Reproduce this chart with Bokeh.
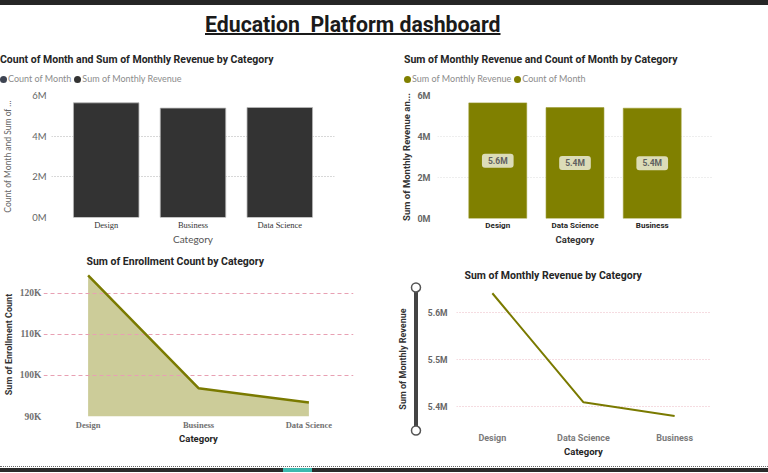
from bokeh.plotting import figure
from bokeh.models import (Range1d, FactorRange, CustomJSTickFormatter, Div)
from bokeh.layouts import column, row
from bokeh.embed import file_html
from bokeh.resources import INLINE
from bokeh.core.properties import value

# ---------------- data ----------------
main_title = "Education  Platform dashboard"

bar_left_title = "Count of Month and Sum of Monthly Revenue by Category"
bar_left_categories = ["Design", "Business", "Data Science"]
bar_left_revenue = [5640000, 5380000, 5410000]
bar_left_legend = ["Count of Month", "Sum of Monthly Revenue"]
bar_left_legend_colors = ["#3e4452", "#333333"]
bar_left_ticks = [0, 2000000, 4000000, 6000000]

bar_right_title = "Sum of Monthly Revenue and Count of Month by Category"
bar_right_categories = ["Design", "Data Science", "Business"]
bar_right_revenue = [5640000, 5410000, 5380000]
bar_right_legend = ["Sum of Monthly Revenue", "Count of Month"]
bar_right_legend_colors = ["#808000", "#808000"]
bar_right_ticks = [0, 2000000, 4000000, 6000000]

area_title = "Sum of Enrollment Count by Category"
area_categories = ["Design", "Business", "Data Science"]
area_enrollment = [124400, 96900, 93400]
area_ticks = [90000, 100000, 110000, 120000]

line_title = "Sum of Monthly Revenue by Category"
line_categories = ["Design", "Data Science", "Business"]
line_revenue = [5641000, 5409000, 5380000]
line_ticks = [5400000, 5500000, 5600000]

# axis extents
bar_y_max = 6000000
area_y_max = 125120
line_y_min = 5348940
line_y_max = 5653200

# ---------------- styles ----------------
DIN = "Roboto"
SEGOE = "Lato"
SERIF = "Liberation Serif"
OLIVE = "#808000"
DARK = "#252525"

W = 384
H_HEAD = 40
H_TOP = 159
H_BOT = 213


def make_fig(width, height, x_range, y_range, left, right, top, bottom, **kw):
    p = figure(width=width, height=height, x_range=x_range, y_range=y_range,
               output_backend="svg", toolbar_location=None, frame_align=False,
               min_border_left=left, min_border_right=right,
               min_border_top=top, min_border_bottom=bottom, margin=0, **kw)
    p.outline_line_color = None
    p.background_fill_color = "white"
    p.border_fill_color = "white"
    p.xgrid.grid_line_color = None
    for ax in list(p.xaxis) + list(p.yaxis):
        ax.axis_line_color = None
        ax.major_tick_line_color = None
        ax.minor_tick_line_color = None
        ax.major_tick_out = 0
        ax.major_tick_in = 0
        ax.minor_tick_out = 0
        ax.minor_tick_in = 0
    return p


def style_axis(ax, font, size, color, style="normal", standoff=3):
    ax.major_label_text_font = font
    ax.major_label_text_font_size = size
    ax.major_label_text_color = color
    ax.major_label_text_font_style = style
    ax.major_label_standoff = standoff


def style_label(ax, text, font, size, color, style="bold", standoff=1):
    ax.axis_label = text
    ax.axis_label_text_font = font
    ax.axis_label_text_font_size = size
    ax.axis_label_text_color = color
    ax.axis_label_text_font_style = style
    ax.axis_label_standoff = standoff


def style_title(p, text, offset, standoff):
    p.title.text = text
    p.title.text_font = DIN
    p.title.text_font_style = "bold"
    p.title.text_font_size = "10.5px"
    p.title.text_color = DARK
    p.title.align = "left"
    p.title.offset = offset
    p.title.standoff = standoff


def head_div(title, labels, colors, left):
    items = ""
    for lab, col in zip(labels, colors):
        items += ('<span style="display:inline-block;width:7px;height:7px;border-radius:50%;'
                  'background:' + col + ';vertical-align:-1px;margin-right:1px"></span>'
                  '<span style="margin-right:3px">' + lab + '</span>')
    html = (
        '<div style="position:relative;width:' + str(W) + 'px;height:' + str(H_HEAD) + 'px">'
        '<div style="position:absolute;left:' + str(left) + 'px;top:5px;font-family:Roboto;'
        'font-weight:bold;font-size:10.5px;line-height:14px;color:' + DARK + ';white-space:nowrap">'
        + title + '</div>'
        '<div style="position:absolute;left:' + str(left) + 'px;top:24px;font-family:Lato;'
        'font-size:9px;line-height:14px;color:#8c8c8c;white-space:nowrap">' + items + '</div>'
        '</div>'
    )
    return Div(text=html, width=W, height=H_HEAD, margin=0)


# ---------------- top-left: dark bars ----------------
p1 = make_fig(W, H_TOP, FactorRange(*bar_left_categories, range_padding=0.087),
              Range1d(0, bar_y_max), 45, 50, 7, 29)
p1.vbar(x=bar_left_categories, top=bar_left_revenue, width=0.755,
        fill_color="#333333", line_color="#b8b8b8", line_width=0.8)
p1.yaxis.ticker = bar_left_ticks
p1.yaxis.formatter = CustomJSTickFormatter(code="return (tick/1e6).toFixed(0) + 'M';")
style_axis(p1.yaxis[0], SEGOE, "9.5px", "#666666", standoff=5)
style_label(p1.yaxis[0], "Count of Month and Sum of ...", SEGOE, "8.5px", "#666666",
            style="normal", standoff=16)
style_axis(p1.xaxis[0], SERIF, "8.5px", "#333333", standoff=2)
style_label(p1.xaxis[0], "Category", SEGOE, "10px", "#555555", style="normal", standoff=0)
p1.ygrid.grid_line_color = "#b0b0b0"
p1.ygrid.grid_line_dash = "1 2"
h1 = head_div(bar_left_title, bar_left_legend, bar_left_legend_colors, 0)

# ---------------- top-right: olive bars ----------------
p2 = make_fig(W, H_TOP, FactorRange(*bar_right_categories, range_padding=0.187),
              Range1d(0, bar_y_max), 53, 56, 7, 29)
p2.vbar(x=bar_right_categories, top=bar_right_revenue, width=0.75,
        fill_color=OLIVE, line_color="#9a9a30", line_width=0.6)
p2.text(x=bar_right_categories, y=[v / 2 for v in bar_right_revenue],
        text=[f"{v / 1e6:.1f}M" for v in bar_right_revenue],
        text_align="center", text_baseline="middle",
        text_font=value(DIN), text_font_style="bold", text_font_size="8.5px",
        text_color="#606060", background_fill_color="#dcdcb8",
        border_radius=3, padding=(6, 2))
p2.yaxis.ticker = bar_right_ticks
p2.yaxis.formatter = CustomJSTickFormatter(code="return (tick/1e6).toFixed(0) + 'M';")
style_axis(p2.yaxis[0], DIN, "9px", "#666666", style="bold", standoff=7)
style_label(p2.yaxis[0], "Sum of Monthly Revenue an...", DIN, "9.5px", "#333333", standoff=2)
style_axis(p2.xaxis[0], DIN, "8px", DARK, style="bold", standoff=2)
style_label(p2.xaxis[0], "Category", DIN, "9.5px", "#333333", standoff=1)
p2.ygrid.grid_line_color = "#dddddd"
p2.ygrid.grid_line_dash = "1 2"
h2 = head_div(bar_right_title, bar_right_legend, bar_right_legend_colors, 20)

# ---------------- bottom-left: area ----------------
p3 = make_fig(W, H_BOT, FactorRange(*area_categories, range_padding=-0.064),
              Range1d(area_ticks[0], area_y_max), 40, 31, 25, 44)
p3.varea(x=area_categories, y1=[area_ticks[0]] * len(area_categories), y2=area_enrollment,
         fill_color=OLIVE, fill_alpha=0.4, level="image")
p3.line(x=area_categories, y=area_enrollment, line_color="#7a7a00", line_width=2.5)
p3.yaxis.ticker = area_ticks
p3.yaxis.formatter = CustomJSTickFormatter(code="return (tick/1000).toFixed(0) + 'K';")
style_axis(p3.yaxis[0], SERIF, "9.5px", "#707070", style="bold", standoff=2)
style_label(p3.yaxis[0], "Sum of Enrollment Count", DIN, "9px", "#333333", standoff=3)
style_axis(p3.xaxis[0], SERIF, "8.5px", "#707070", style="bold", standoff=3)
style_label(p3.xaxis[0], "Category", DIN, "9.5px", DARK, standoff=0)
p3.ygrid.grid_line_color = "#e8a0b3"
p3.ygrid.grid_line_dash = "4 3"
style_title(p3, area_title, 43, 10)

# ---------------- bottom-right: slider + line ----------------
SW = 40
s = figure(width=SW, height=H_BOT, x_range=Range1d(0, 1), y_range=Range1d(0, 1),
           output_backend="svg", toolbar_location=None, x_axis_location=None,
           frame_align=False,
           min_border_left=23, min_border_right=0, min_border_top=32, min_border_bottom=22,
           margin=0)
s.outline_line_color = None
s.grid.grid_line_color = None
s.yaxis.ticker = []
s.yaxis.axis_line_color = None
s.yaxis.major_tick_out = 0
s.yaxis.minor_tick_out = 0
s.yaxis.major_label_standoff = 0
style_label(s.yaxis[0], "Sum of Monthly Revenue", DIN, "9px", "#333333", standoff=0)
s.segment(x0=[0.5], y0=[0.05], x1=[0.5], y1=[0.95], line_width=4, line_color="#444444")
s.scatter(x=[0.5, 0.5], y=[0.05, 0.95], size=9, fill_color="white",
          line_color="#555555", line_width=1.5)

p4 = make_fig(W - SW, H_BOT, FactorRange(*line_categories, range_padding=-0.071),
              Range1d(line_y_min, line_y_max), 31, 58, 40, 30)
p4.line(x=line_categories, y=line_revenue, line_color="#7a7a00", line_width=2)
p4.yaxis.ticker = line_ticks
p4.yaxis.formatter = CustomJSTickFormatter(code="return (tick/1e6).toFixed(1) + 'M';")
style_axis(p4.yaxis[0], DIN, "8.5px", "#666666", style="bold", standoff=9)
style_axis(p4.xaxis[0], DIN, "9px", "#7a7a7a", style="bold", standoff=2)
style_label(p4.xaxis[0], "Category", DIN, "9.5px", DARK, standoff=0)
p4.ygrid.grid_line_color = "#ebb8c3"
p4.ygrid.grid_line_dash = "1 2"
style_title(p4, line_title, 8, 12)

# ---------------- header / footer ----------------
top_html = (
    '<div style="position:relative;width:768px;height:48px">'
    '<div style="position:absolute;left:0;top:0;width:768px;height:5px;background:#262626"></div>'
    '<div style="position:absolute;left:205px;top:11px;font-family:Roboto;font-weight:bold;'
    'font-size:22.5px;line-height:26px;text-decoration:underline;text-decoration-thickness:2px;'
    'color:#1a1a1a;white-space:pre;transform:scaleX(0.945);transform-origin:0 0">'
    + main_title + '</div></div>'
)
top_div = Div(text=top_html, width=768, height=48, margin=0)

bottom_html = (
    '<div style="position:relative;width:768px;height:12px">'
    '<div style="position:absolute;left:0;top:6px;width:768px;height:0;border-top:1px dotted #6a6a6a"></div>'
    '<div style="position:absolute;left:0;top:8px;width:768px;height:4px;background:#2b2b2b"></div>'
    '<div style="position:absolute;left:283px;top:8px;width:29px;height:4px;background:#3cb8ae"></div>'
    '</div>'
)
bottom_div = Div(text=bottom_html, width=768, height=12, margin=0)

layout = column(top_div,
                row(column(h1, p1), column(h2, p2)),
                row(p3, s, p4),
                bottom_div)

open("out.html", "w").write(file_html(layout, INLINE, title="Education Platform dashboard"))
